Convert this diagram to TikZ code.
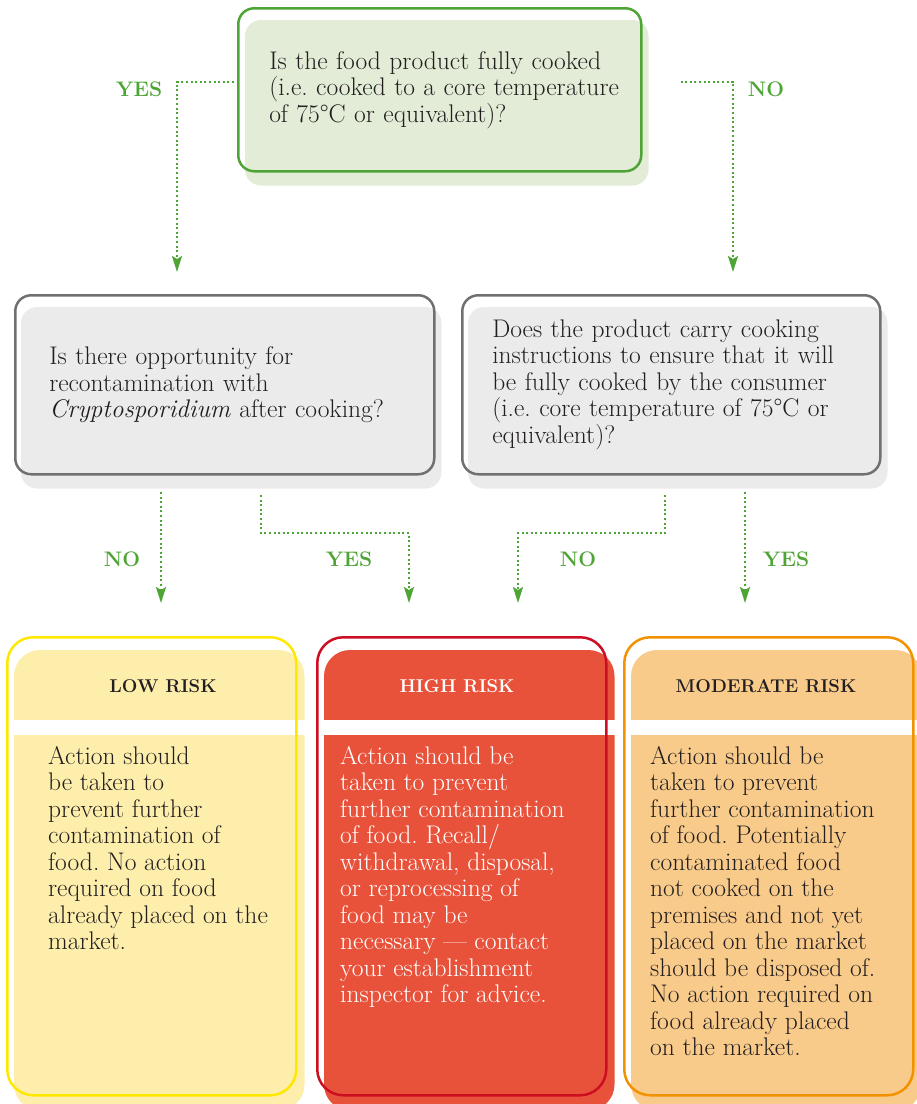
\documentclass[tikz,border=0pt]{standalone}
\usepackage{fontspec}
\usetikzlibrary{positioning,arrows.meta,backgrounds}
\frenchspacing

\definecolor{leafgreen}{HTML}{4FA436}
\definecolor{leafpale}{HTML}{E2ECD6}
\definecolor{stone}{HTML}{707070}
\definecolor{stonepale}{HTML}{EBEBEB}
\definecolor{lowline}{HTML}{FFE800}
\definecolor{lowfill}{HTML}{FDEEAC}
\definecolor{highline}{HTML}{CC0E22}
\definecolor{highfill}{HTML}{E8523A}
\definecolor{modline}{HTML}{F39200}
\definecolor{modfill}{HTML}{F9CB8B}
\definecolor{ink}{HTML}{231F20}

\newcommand\bodysize{\fontsize{25.5}{26.5}\selectfont}
\newcommand\tagfont{\fontsize{21}{22}\selectfont\bfseries\addfontfeature{LetterSpace=10}}
\newcommand\headfont{\fontsize{18.5}{20}\selectfont\bfseries\addfontfeature{LetterSpace=12}}

\begin{document}
\begin{tikzpicture}[x=1pt, y=-1pt,
    question/.style={draw=stone, line width=2.5pt, rounded corners=16pt, anchor=north west,
        align=left, text=ink, font=\bodysize, inner ysep=0pt},
    riskbox/.style={line width=2.5pt, rounded corners=26pt, anchor=north west,
        minimum width=289pt, minimum height=458pt},
    answer/.style={text=leafgreen, font=\tagfont},
    flow/.style={leafgreen, line width=2pt, dash pattern=on 2pt off 2.6pt,
        -{Stealth[length=16pt, width=10pt, inset=3pt]}}
  ]
  \useasboundingbox (0,0) rectangle (917,1104);

  % questions
  \node (cooked) [question, draw=leafgreen, inner xsep=31pt, text width=341pt,
      minimum height=163pt] at (237,7)
    {Is the food product fully cooked\\\mbox{(i.e. cooked to a core temperature}\\of 75°C or equivalent)?};
  \node (recont) [question, inner xsep=34pt, text width=351pt, minimum height=179pt] at (14,294)
    {Is there opportunity for\\recontamination with\\\textit{Cryptosporidium} after cooking?};
  \node (instr) [question, inner xsep=30pt, text width=358pt, minimum height=179pt] at (461,294)
    {Does the product carry cooking\\instructions to ensure that it will\\be fully cooked by the consumer\\(i.e. core temperature of 75°C or\\equivalent)?};
  \begin{scope}[on background layer]
    \fill[leafpale, rounded corners=16pt] ([shift={(8,13)}]cooked.north west) rectangle ([shift={(6,13)}]cooked.south east);
    \foreach \q in {recont, instr}
      \fill[stonepale, rounded corners=16pt] ([shift={(7,13)}]\q.north west) rectangle ([shift={(6,13)}]\q.south east);
  \end{scope}

  % outcomes
  \foreach \name/\x/\hx/\bx/\line/\fillc/\textc/\head/\body in {
      low/6/163/48/lowline/lowfill/ink/LOW RISK/{Action should\\be taken to\\prevent further\\contamination of\\food. No action\\required on food\\already placed on the\\market.},
      high/316/457/340/highline/highfill/white/HIGH RISK/{Action should be\\taken to prevent\\further contamination\\of food. Recall/\\withdrawal, disposal,\\or reprocessing of\\food may be\\necessary — contact\\your establishment\\inspector for advice.},
      mod/623/766/650/modline/modfill/ink/MODERATE RISK/{Action should be\\taken to prevent\\further contamination\\of food. Potentially\\contaminated food\\not cooked on the\\premises and not yet\\placed on the market\\should be disposed of.\\No action required on\\food already placed\\on the market.}} {
    \node (\name) [riskbox, draw=\line] at (\x,636) {};
    \begin{scope}[on background layer]
      \fill[\fillc, rounded corners=26pt] ([shift={(8,14)}]\name.north west) rectangle ([shift={(7,14)}]\name.south east);
      \fill[white] ([shift={(8,84)}]\name.north west) rectangle ([shift={(10,99)}]\name.north east);
    \end{scope}
    \node (\name head) [font=\headfont, text=\textc] at (\hx,686) {\head};
    \node (\name body) [anchor=north west, align=left, font=\bodysize, text=\textc, inner sep=0pt]
      at (\bx,746) {\body};
  }

  % answers
  \coordinate (yestip) at (177,272);
  \coordinate (notip) at (733,272);
  \draw[flow] ([xshift=-3pt,yshift=8pt]cooked.west) -| (yestip);
  \draw[flow] ([xshift=38pt,yshift=8pt]cooked.east) -| (notip);
  \node (yes0) [answer] at (139,89) {YES};
  \node (no0) [answer] at (766,89) {NO};

  \coordinate (recontno) at (161,492);
  \coordinate (recontyes) at (261,495);
  \coordinate (instrno) at (665,495);
  \coordinate (instryes) at (745,492);
  \coordinate (lowtip) at (161,603);
  \coordinate (hightip) at (409,603);
  \coordinate (hightipb) at (518,603);
  \coordinate (modtip) at (745,603);
  \draw[flow] (recontno) -- (lowtip);
  \draw[flow] (recontyes) -- ++(0,38) -| (hightip);
  \draw[flow] (instrno) -- ++(0,38) -| (hightipb);
  \draw[flow] (instryes) -- (modtip);
  \node (no1) [answer] at (122,559) {NO};
  \node (yes1) [answer] at (349,559) {YES};
  \node (no2) [answer] at (578,559) {NO};
  \node (yes2) [answer] at (786,559) {YES};
\end{tikzpicture}
\end{document}
